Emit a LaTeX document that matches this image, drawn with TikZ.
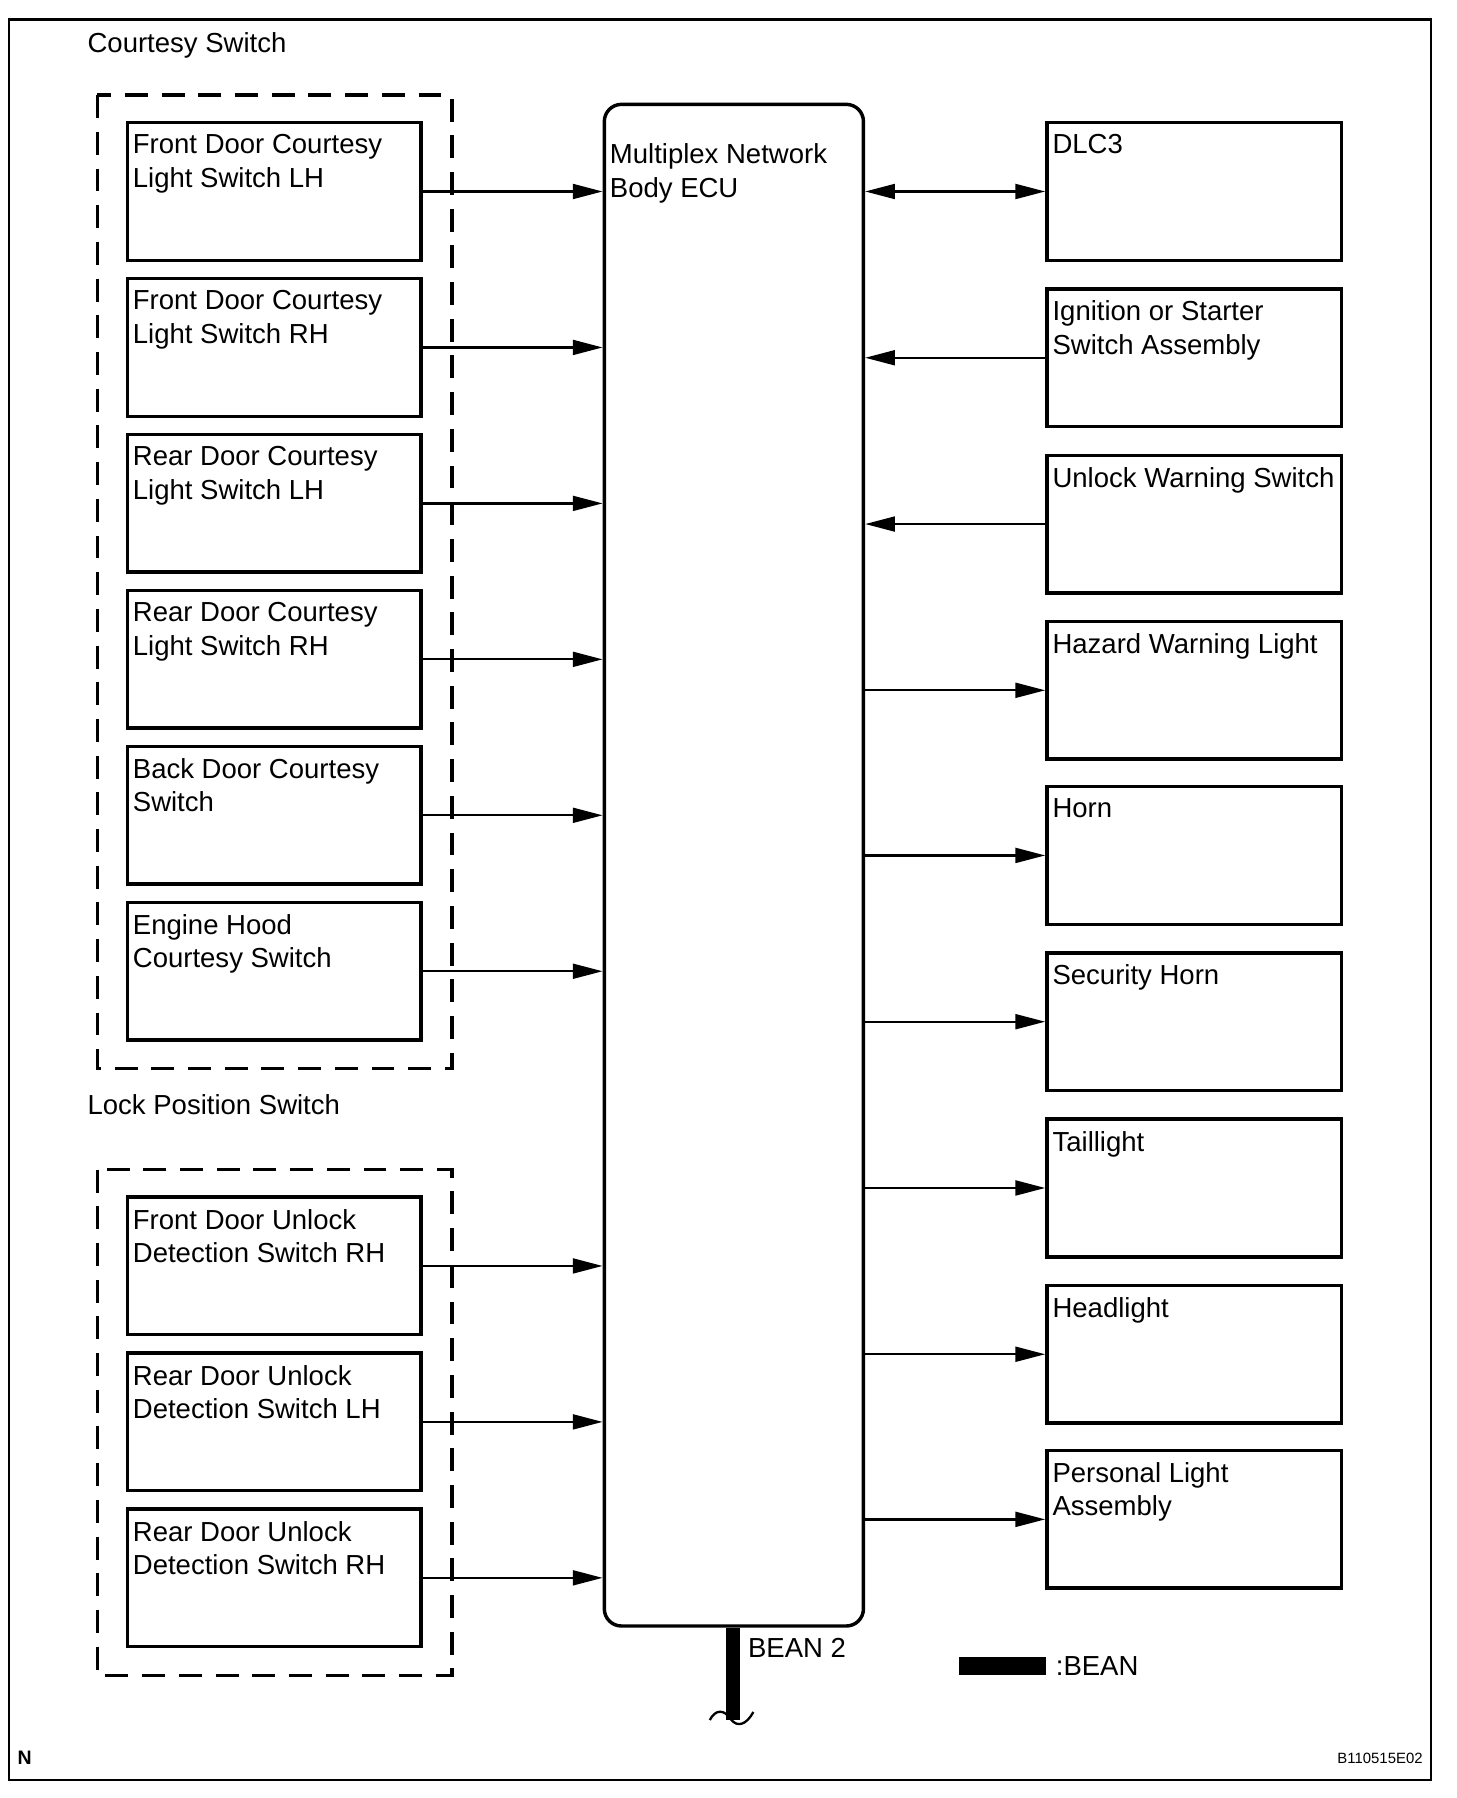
\documentclass[tikz,border=0pt]{standalone}
\usepackage{fontspec}
\setmainfont{Liberation Sans}
\usetikzlibrary{arrows.meta}

\tikzset{
	unit/.style={draw, line width=1.5pt, minimum width=128pt, minimum height=60pt, inner sep=0pt},
	txt/.style={anchor=north west, align=left, inner xsep=3pt, inner ysep=5.8pt, font=\fontsize{12}{14.5}\selectfont},
	ecu/.style={draw, line width=1.5pt, rounded corners=7.5pt, minimum width=113pt, minimum height=663.5pt, inner sep=0pt},
	grp/.style={line width=1.5pt, dash pattern=on 10pt off 6pt},
	sig/.style={line width=1pt, -{Triangle[length=13pt, width=6.5pt]}},
	sigin/.style={line width=1pt, {Triangle[length=13pt, width=6.5pt]}-},
	sigboth/.style={line width=1pt, {Triangle[length=13pt, width=6.5pt]}-{Triangle[length=13pt, width=6.5pt]}},
	bean/.style={line width=6pt},
	plain/.style={font=\fontsize{12}{14.5}\selectfont, inner sep=0pt}
}

\begin{document}
\begin{tikzpicture}[x=0.5pt, y=-0.5pt]
		\useasboundingbox (0,0) rectangle (1270,1568);
		% frame
		\draw[line width=1pt] (8,17) rectangle (1248,1552);
		% groups
		\node[plain, anchor=west] (cstitle) at (76,40) {Courtesy Switch};
		\draw[grp] (85,83) rectangle (394,932);
		\node[plain, anchor=west] (lptitle) at (76,963) {Lock Position Switch};
		\draw[grp] (85,1020) rectangle (394,1461);
		% left side
		\node[unit, label={[txt]north west:{Front Door Courtesy\\Light Switch LH}}] (fdlh) at (239,167) {};
		\node[unit, label={[txt]north west:{Front Door Courtesy\\Light Switch RH}}] (fdrh) at (239,303) {};
		\node[unit, label={[txt]north west:{Rear Door Courtesy\\Light Switch LH}}] (rdlh) at (239,439) {};
		\node[unit, label={[txt]north west:{Rear Door Courtesy\\Light Switch RH}}] (rdrh) at (239,575) {};
		\node[unit, label={[txt]north west:{Back Door Courtesy\\Switch}}] (bdsw) at (239,711) {};
		\node[unit, label={[txt]north west:{Engine Hood\\Courtesy Switch}}] (ehsw) at (239,847) {};
		\node[unit, label={[txt]north west:{Front Door Unlock\\Detection Switch RH}}] (fdun) at (239,1104) {};
		\node[unit, label={[txt]north west:{Rear Door Unlock\\Detection Switch LH}}] (rdunl) at (239,1240) {};
		\node[unit, label={[txt]north west:{Rear Door Unlock\\Detection Switch RH}}] (rdunr) at (239,1376) {};
		% body ecu
		\node[ecu, label={[txt, yshift=-12pt]north west:{Multiplex Network\\Body ECU}}] (ecu) at (640,754.5) {};
		% right side
		\node[unit, minimum width=128.5pt, label={[txt]north west:{DLC3}}] (dlc) at (1041.5,167) {};
		\node[unit, minimum width=128.5pt, label={[txt]north west:{Ignition or Starter\\Switch Assembly}}] (ig) at (1041.5,312) {};
		\node[unit, minimum width=128.5pt, label={[txt]north west:{Unlock Warning Switch}}] (uw) at (1041.5,457) {};
		\node[unit, minimum width=128.5pt, label={[txt]north west:{Hazard Warning Light}}] (haz) at (1041.5,602) {};
		\node[unit, minimum width=128.5pt, label={[txt]north west:{Horn}}] (horn) at (1041.5,746) {};
		\node[unit, minimum width=128.5pt, label={[txt]north west:{Security Horn}}] (sech) at (1041.5,891) {};
		\node[unit, minimum width=128.5pt, label={[txt]north west:{Taillight}}] (tail) at (1041.5,1036) {};
		\node[unit, minimum width=128.5pt, label={[txt]north west:{Headlight}}] (head) at (1041.5,1181) {};
		\node[unit, minimum width=128.5pt, label={[txt]north west:{Personal Light\\Assembly}}] (pers) at (1041.5,1325) {};
		% signals
		\foreach \n in {fdlh,fdrh,rdlh,rdrh,bdsw,ehsw,fdun,rdunl,rdunr}
			\draw[sig] (\n.east) -- (\n.east -| ecu.west);
		\draw[sigboth] (ecu.east |- dlc.west) -- (dlc.west);
		\draw[sigin] (ecu.east |- ig.west) -- (ig.west);
		\draw[sigin] (ecu.east |- uw.west) -- (uw.west);
		\foreach \n in {haz,horn,sech,tail,head,pers}
			\draw[sig] (ecu.east |- \n.west) -- (\n.west);
		% bean line
		\coordinate (beanend) at (639,1500);
		\draw[bean] (ecu.south -| beanend) -- (beanend);
		\draw[line width=1pt] (619,1500) .. controls (624,1490) and (632,1491) .. (637,1499)
			.. controls (643,1507) and (651,1504) .. (657,1493);
		\node[plain, anchor=west] (beanlbl) at (652,1437) {BEAN 2};
		% legend
		\node[fill, minimum width=38pt, minimum height=8pt, inner sep=0pt] (legbar) at (874,1453) {};
		\node[plain, anchor=west, xshift=4pt] (legtxt) at (legbar.east) {:BEAN};
		% corner marks
		\node[anchor=west, inner sep=0pt, font=\fontsize{8.5}{10}\selectfont\bfseries] (nmark) at (15,1533) {N};
		\node[anchor=east, inner sep=0pt, font=\fontsize{6.5}{8}\selectfont] (code) at (1241,1533) {B110515E02};
	\end{tikzpicture}
\end{document}
